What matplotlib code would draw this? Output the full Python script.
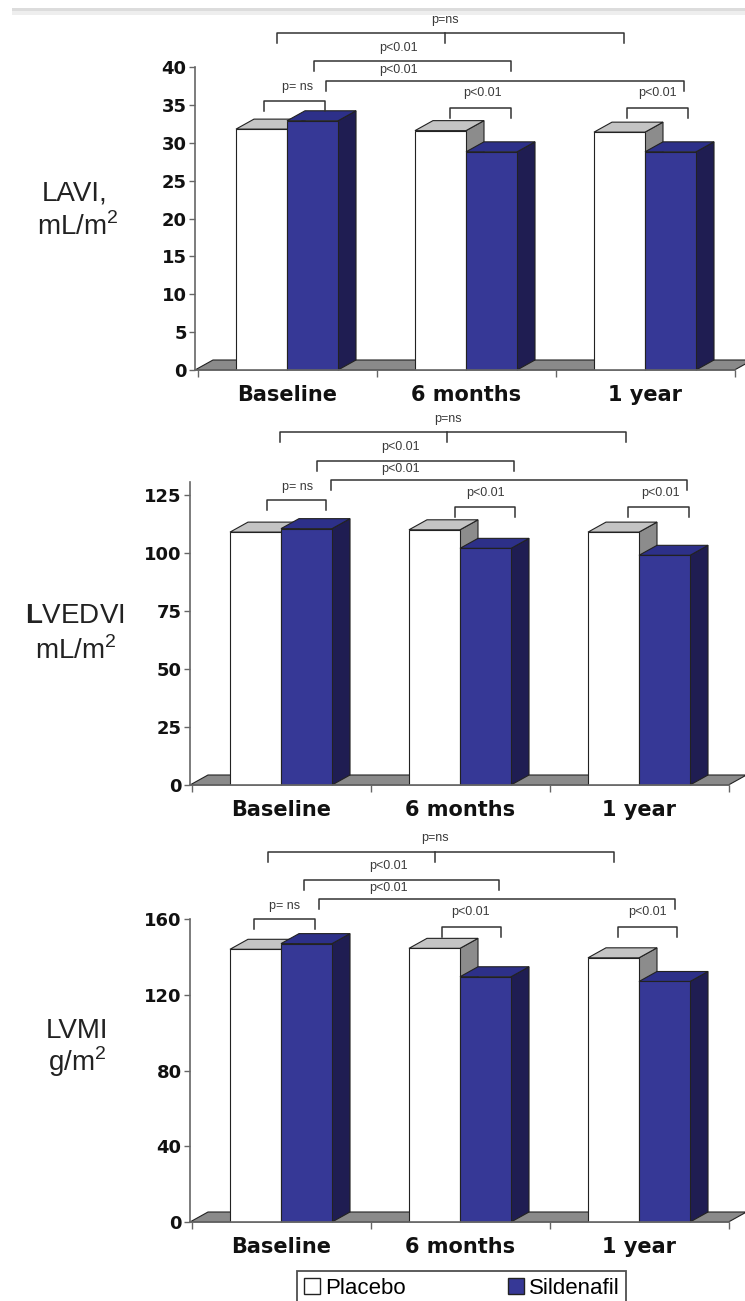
import matplotlib
matplotlib.use('Agg')
import matplotlib.pyplot as plt
from matplotlib.patches import Polygon, Patch, Rectangle

plt.rcParams['font.family'] = ['Liberation Sans', 'DejaVu Sans']
plt.rcParams['mathtext.fontset'] = 'custom'
plt.rcParams['mathtext.rm'] = 'Liberation Sans'
plt.rcParams['mathtext.bf'] = 'Liberation Sans:bold'

# data
categories = ['Baseline', '6 months', '1 year']
lavi_placebo = [31.8, 31.6, 31.4]
lavi_sildenafil = [32.9, 28.8, 28.8]
lvedvi_placebo = [109, 110, 109]
lvedvi_sildenafil = [110.5, 102, 99]
lvmi_placebo = [144, 144.5, 139.5]
lvmi_sildenafil = [147, 129.5, 127]
p_labels = ['p=ns', 'p<0.01', 'p<0.01', 'p= ns', 'p<0.01', 'p<0.01']

# bracket layout per panel: (x left, x right, y, text x, text y, middle tick)
lavi_brackets = [(-0.056, 1.88, 44.5, 0.88, 46.2, 0.88),
                 (0.15, 1.25, 40.8, 0.62, 42.5, None),
                 (0.22, 2.22, 38.2, 0.62, 39.6, None),
                 (-0.13, 0.21, 35.5, 0.06, 37.4, None),
                 (0.91, 1.25, 34.6, 1.09, 36.6, None),
                 (1.90, 2.24, 34.6, 2.07, 36.6, None)]
lvedvi_brackets = [(-0.006, 1.93, 152.2, 0.93, 157.8, 0.93),
                   (0.20, 1.30, 139.7, 0.67, 145.7, None),
                   (0.28, 2.27, 131.5, 0.67, 136.2, None),
                   (-0.08, 0.25, 122.8, 0.09, 128.4, None),
                   (0.97, 1.31, 119.8, 1.14, 125.9, None),
                   (1.94, 2.28, 119.8, 2.12, 125.9, None)]
lvmi_brackets = [(-0.07, 1.86, 195.4, 0.86, 202.7, 0.86),
                 (0.13, 1.22, 180.6, 0.60, 188.0, None),
                 (0.21, 2.20, 170.5, 0.60, 176.3, None),
                 (-0.15, 0.19, 160.0, 0.02, 166.8, None),
                 (0.90, 1.23, 155.8, 1.06, 163.7, None),
                 (1.88, 2.21, 155.8, 2.05, 163.7, None)]

W, H = 745, 1301
STEP = 179.0          # pixels per category
BAR_W = 0.285
DX_PX, DY_PX = 18, 10  # 3d depth of bars and floor

PLACEBO = ('white', '#c4c4c4', '#8c8c8c')    # front, top, side
SILDENAFIL = ('#363896', '#2d3089', '#1f1d52')
EDGE = '#222222'

fig = plt.figure(figsize=(W / 100, H / 100), dpi=100)


def make_axes(axis_px, center0_px, zero_px, top_px, ymax_tick, ymax_px):
    ax = fig.add_axes([axis_px / W, 1 - zero_px / H, (W - axis_px) / W, (zero_px - top_px) / H])
    ppu = (zero_px - ymax_px) / ymax_tick
    xmin = (axis_px - center0_px) / STEP
    ax.set_xlim(xmin, xmin + (W - axis_px) / STEP)
    ax.set_ylim(0, (zero_px - top_px) / ppu)
    ax.patch.set_alpha(0)
    return ax, ppu, xmin


def draw_panel(ax, ppu, xmin, placebo, sildenafil, ticks, spine_top, brackets):
    dx = DX_PX / STEP
    dy = DY_PX / ppu
    x = list(range(len(categories)))

    floor = Polygon([(xmin, 0), (2.5, 0), (2.5 + dx, dy), (xmin + dx, dy)],
                    closed=True, fc='#8a8a8a', ec=EDGE, lw=0.8, zorder=0.5, clip_on=False)
    ax.add_patch(floor)

    for j, (vals, cols) in enumerate([(placebo, PLACEBO), (sildenafil, SILDENAFIL)]):
        lefts = [xi - BAR_W + j * BAR_W for xi in x]
        for x0, h in zip(lefts, vals):
            x1 = x0 + BAR_W
            ax.add_patch(Polygon([(x1, 0), (x1 + dx, dy), (x1 + dx, h + dy), (x1, h)],
                                 fc=cols[2], ec=EDGE, lw=0.8, clip_on=False))
            ax.add_patch(Polygon([(x0, h), (x1, h), (x1 + dx, h + dy), (x0 + dx, h + dy)],
                                 fc=cols[1], ec=EDGE, lw=0.8, clip_on=False))
        ax.bar(lefts, vals, width=BAR_W, align='edge', color=cols[0], edgecolor=EDGE, lw=0.8)

    # significance brackets
    drop = DY_PX / ppu
    for (xl, xr, y, tx, ty, mid), lab in zip(brackets, p_labels):
        ax.plot([xl, xl, xr, xr], [y - drop, y, y, y - drop], color='#333333', lw=1.1,
                clip_on=False)
        if mid is not None:
            ax.plot([mid, mid], [y, y - drop], color='#333333', lw=1.1, clip_on=False)
        ax.text(tx, ty, lab, ha='center', va='center', fontsize=9, color='#3a3a3a')

    for side in ['top', 'right']:
        ax.spines[side].set_visible(False)
    ax.spines['left'].set_bounds(0, spine_top)
    ax.spines['bottom'].set_bounds(xmin, 2.5)
    for side in ['left', 'bottom']:
        ax.spines[side].set_color('#666666')
        ax.spines[side].set_linewidth(1.2)

    ax.set_yticks(ticks)
    ax.set_yticklabels([str(t) for t in ticks], family='DejaVu Sans', fontweight='bold',
                       fontsize=13, color='#111111')
    ax.tick_params(axis='y', length=4, width=1, color='#666666', pad=2)

    ax.set_xticks(x)
    ax.set_xticklabels(categories, family='DejaVu Sans', fontweight='bold', fontsize=15,
                       color='#111111')
    ax.set_xticks([-0.5, 0.5, 1.5, 2.5], minor=True)
    ax.tick_params(axis='x', which='major', length=0, pad=11)
    ax.tick_params(axis='x', which='minor', length=5, width=1, color='#666666')


ax1, ppu1, xmin1 = make_axes(195, 287, 370, 5, 40, 67)
draw_panel(ax1, ppu1, xmin1, lavi_placebo, lavi_sildenafil,
           list(range(0, 41, 5)), 40, lavi_brackets)

ax2, ppu2, xmin2 = make_axes(190, 281, 785, 405, 125, 495)
draw_panel(ax2, ppu2, xmin2, lvedvi_placebo, lvedvi_sildenafil,
           list(range(0, 126, 25)), 130.5, lvedvi_brackets)

ax3, ppu3, xmin3 = make_axes(190, 281, 1222, 825, 160, 919)
draw_panel(ax3, ppu3, xmin3, lvmi_placebo, lvmi_sildenafil,
           [0, 40, 80, 120, 160], 160, lvmi_brackets)

# axis titles
ylab = [('LAVI,', 75, 193), ('mL/m$^2$', 78, 227),
        (r'$\mathbf{L}$VEDVI', 75, 616), ('mL/m$^2$', 76, 651),
        ('LVMI', 77, 1031), ('g/m$^2$', 77, 1062)]
for txt, px, py in ylab:
    fig.text(px / W, 1 - py / H, txt, ha='center', va='center', fontsize=20, color='#222222')

# legend
leg = fig.legend(handles=[Patch(fc=PLACEBO[0], ec='#222222'), Patch(fc=SILDENAFIL[0], ec='#222222')],
                 labels=['Placebo', 'Sildenafil'], loc='upper left',
                 bbox_to_anchor=(297 / W, 1 - 1271 / H), ncol=2, frameon=True, fancybox=False,
                 edgecolor='#222222', fontsize=16, handlelength=0.75, handleheight=0.75,
                 handletextpad=0.2, columnspacing=4.6, borderpad=0.3, borderaxespad=0)
leg.get_frame().set_linewidth(1.3)

# light band along the top edge
fig.add_artist(Rectangle((12 / W, 1 - 11 / H), (W - 12) / W, 3 / H,
                         transform=fig.transFigure, fc='#dcdcdc', ec='none'))
fig.add_artist(Rectangle((12 / W, 1 - 15 / H), (W - 12) / W, 4 / H,
                         transform=fig.transFigure, fc='#eeeeee', ec='none'))

fig.savefig('out.png', dpi=100)
